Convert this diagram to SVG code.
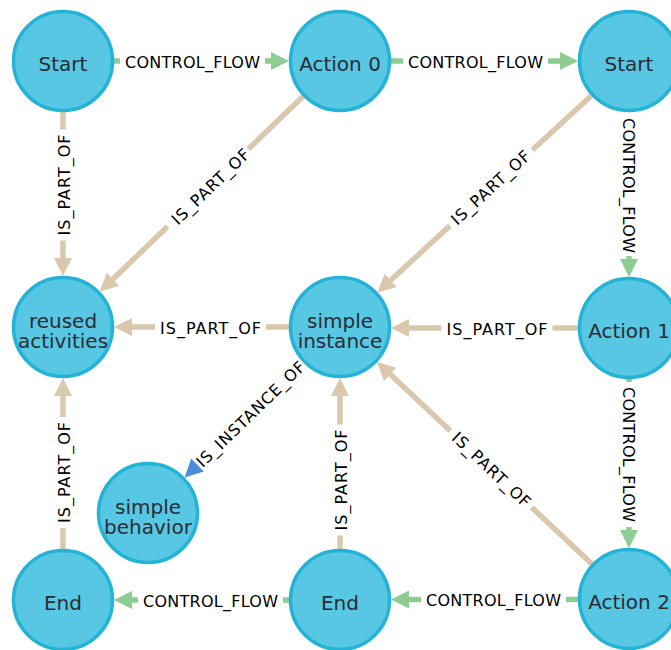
<svg xmlns="http://www.w3.org/2000/svg" width="671" height="650" viewBox="0 0 671 650">
  <style>
    .node circle { fill: #57C7E3; stroke: #23B3D7; stroke-width: 3.5; }
    .node text { font-family: "DejaVu Sans", Verdana, sans-serif; font-size: 20px; fill: #2A2C34; text-anchor: middle; }
    .shaft { fill: none; stroke-width: 5.5; stroke-linecap: butt; }
    .cf .shaft { stroke: #8DCC93; }
    .cf polygon { fill: #8DCC93; }
    .po .shaft { stroke: #D9C8AE; }
    .po polygon { fill: #D9C8AE; }
    .io polygon { fill: #4C8EDA; }
    .lbl { font-family: "DejaVu Sans", Verdana, sans-serif; font-size: 16px; fill: #000; text-anchor: middle; }
  </style>

  <!-- relationships -->
  <g id="connectors">
    <!-- Start -> Action 0 -->
    <g class="cf">
      <path class="shaft" d="M114 61H120M265 61H271"/>
      <polygon points="289,61 271,52 271,70"/>
      <text class="lbl" x="192.5" y="67.5" textLength="135" lengthAdjust="spacing">CONTROL_FLOW</text>
    </g>
    <!-- Action 0 -> Start -->
    <g class="cf">
      <path class="shaft" d="M391 61H403M548 61H560"/>
      <polygon points="578,61 560,52 560,70"/>
      <text class="lbl" x="475.5" y="67.5" textLength="135" lengthAdjust="spacing">CONTROL_FLOW</text>
    </g>
    <!-- Start -> Action 1 -->
    <g class="cf">
      <path class="shaft" d="M629 256V259"/>
      <polygon points="629,277 620,259 638,259"/>
      <text class="lbl" transform="translate(629 185.5) rotate(90)" x="0" y="6.5" textLength="135" lengthAdjust="spacing">CONTROL_FLOW</text>
    </g>
    <!-- Action 1 -> Action 2 -->
    <g class="cf">
      <path class="shaft" d="M629 379V382M629 527V530"/>
      <polygon points="629,548 620,530 638,530"/>
      <text class="lbl" transform="translate(629 454.5) rotate(90)" x="0" y="6.5" textLength="135" lengthAdjust="spacing">CONTROL_FLOW</text>
    </g>
    <!-- Action 2 -> End -->
    <g class="cf">
      <path class="shaft" d="M578 599.5H566M421 599.5H409"/>
      <polygon points="391,599.5 409,590.5 409,608.5"/>
      <text class="lbl" x="493.5" y="606" textLength="135" lengthAdjust="spacing">CONTROL_FLOW</text>
    </g>
    <!-- End -> End -->
    <g class="cf">
      <path class="shaft" d="M289 600H283M138 600H132"/>
      <polygon points="114,600 132,591 132,609"/>
      <text class="lbl" x="210.5" y="606.5" textLength="135" lengthAdjust="spacing">CONTROL_FLOW</text>
    </g>

    <!-- Start -> reused activities -->
    <g class="po">
      <path class="shaft" d="M63 112V129.5M63 240.5V258"/>
      <polygon points="63,276 54,258 72,258"/>
      <text class="lbl" transform="translate(63 185) rotate(-90)" x="0" y="6.5" textLength="101" lengthAdjust="spacing">IS_PART_OF</text>
    </g>
    <!-- Action 0 -> reused activities -->
    <g class="po">
      <path class="shaft" d="M303.2 96.3L248.4 149M167.6 226.5L112.8 279.2"/>
      <polygon points="99.8,291.7 119,285.7 106.6,272.7"/>
      <text class="lbl" transform="translate(210 186) rotate(-43.84)" x="0" y="6.5" textLength="101" lengthAdjust="spacing">IS_PART_OF</text>
    </g>
    <!-- Start -> simple instance -->
    <g class="po">
      <path class="shaft" d="M591.5 95.5L532.3 150M449.9 225.8L390.7 280.3"/>
      <polygon points="377.5,292.5 396.8,286.9 384.6,273.7"/>
      <text class="lbl" transform="translate(490 187) rotate(-42.63)" x="0" y="6.5" textLength="101" lengthAdjust="spacing">IS_PART_OF</text>
    </g>
    <!-- Action 1 -> simple instance -->
    <g class="po">
      <path class="shaft" d="M578 328H552.5M441.5 328H409"/>
      <polygon points="391,328 409,319 409,337"/>
      <text class="lbl" x="497" y="334.5" textLength="101" lengthAdjust="spacing">IS_PART_OF</text>
    </g>
    <!-- simple instance -> reused activities -->
    <g class="po">
      <path class="shaft" d="M289 327H266M155 327H132"/>
      <polygon points="114,327 132,318 132,336"/>
      <text class="lbl" x="210.5" y="333.5" textLength="101" lengthAdjust="spacing">IS_PART_OF</text>
    </g>
    <!-- Action 2 -> simple instance -->
    <g class="po">
      <path class="shaft" d="M591.9 564L531.8 507.5M450.3 430.8L390.2 374.3"/>
      <polygon points="377.1,362 396.4,367.7 384,380.9"/>
      <text class="lbl" transform="translate(492 469) rotate(43.27)" x="0" y="6.5" textLength="101" lengthAdjust="spacing">IS_PART_OF</text>
    </g>
    <!-- End -> simple instance -->
    <g class="po">
      <path class="shaft" d="M340 549V535.5M340 424.5V396"/>
      <polygon points="340,378 331,396 349,396"/>
      <text class="lbl" transform="translate(340 480) rotate(-90)" x="0" y="6.5" textLength="101" lengthAdjust="spacing">IS_PART_OF</text>
    </g>
    <!-- End -> reused activities -->
    <g class="po">
      <path class="shaft" d="M63 549V528M63 417V396"/>
      <polygon points="63,378 54,396 72,396"/>
      <text class="lbl" transform="translate(63 472.5) rotate(-90)" x="0" y="6.5" textLength="101" lengthAdjust="spacing">IS_PART_OF</text>
    </g>

    <!-- simple instance -> simple behavior -->
    <g class="io">
      <polygon points="184.6,477.5 203.8,471.5 191.2,458.5"/>
      <text class="lbl" transform="translate(250 413.5) rotate(-44.09)" x="0" y="6.5" textLength="144" lengthAdjust="spacing">IS_INSTANCE_OF</text>
    </g>
  </g>

  <!-- nodes -->
  <g id="start-1" class="node"><circle cx="63" cy="61" r="49.5"/><text x="63" y="71">Start</text></g>
  <g id="action-0" class="node"><circle cx="340" cy="61" r="49.5"/><text x="340" y="71">Action 0</text></g>
  <g id="start-2" class="node"><circle cx="629" cy="61" r="49.5"/><text x="629" y="71">Start</text></g>
  <g id="reused-activities" class="node"><circle cx="63" cy="327" r="49.5"/><text x="63" y="328">reused<tspan x="63" dy="19.5">activities</tspan></text></g>
  <g id="simple-instance" class="node"><circle cx="340" cy="327" r="49.5"/><text x="340" y="328">simple<tspan x="340" dy="19.5">instance</tspan></text></g>
  <g id="action-1" class="node"><circle cx="629" cy="328" r="49.5"/><text x="629" y="338">Action 1</text></g>
  <g id="simple-behavior" class="node"><circle cx="148" cy="513" r="49.5"/><text x="148" y="514">simple<tspan x="148" dy="19.5">behavior</tspan></text></g>
  <g id="end-1" class="node"><circle cx="63" cy="600" r="49.5"/><text x="63" y="610">End</text></g>
  <g id="end-2" class="node"><circle cx="340" cy="600" r="49.5"/><text x="340" y="610">End</text></g>
  <g id="action-2" class="node"><circle cx="629" cy="599" r="49.5"/><text x="629" y="609">Action 2</text></g>
</svg>
